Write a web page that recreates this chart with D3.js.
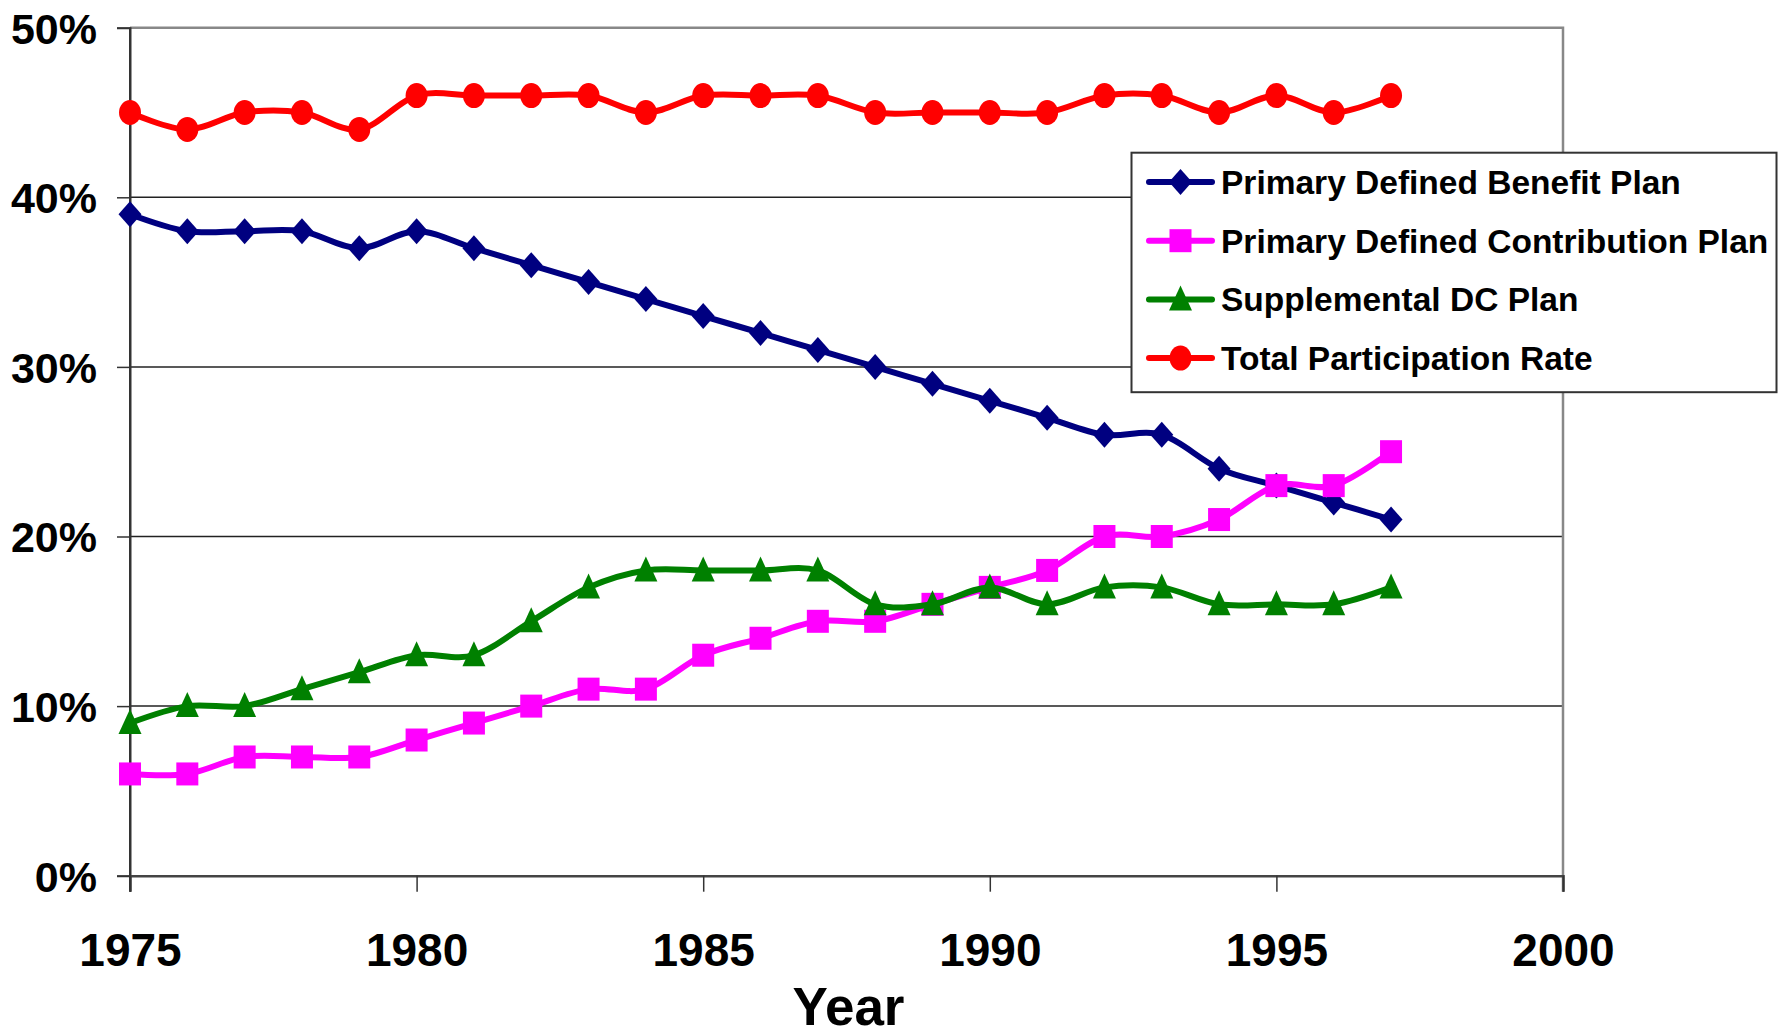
<!DOCTYPE html>
<html>
<head>
<meta charset="utf-8">
<title>Participation rates</title>
<style>
body { margin: 0; background: #fff; }
text { font-family: Arial, "Liberation Sans", sans-serif; font-weight: bold; fill: #000; }
</style>
</head>
<body>
<script src="https://cdn.jsdelivr.net/npm/d3@7"></script>
<script>

var years = d3.range(1975, 1998);
var seriesNames = ["Primary Defined Benefit Plan", "Primary Defined Contribution Plan",
                   "Supplemental DC Plan", "Total Participation Rate"];
var dbPlan    = [39, 38, 38, 38, 37, 38, 37, 36, 35, 34, 33, 32, 31, 30, 29, 28, 27, 26, 26, 24, 23, 22, 21];
var dcPlan    = [6, 6, 7, 7, 7, 8, 9, 10, 11, 11, 13, 14, 15, 15, 16, 17, 18, 20, 20, 21, 23, 23, 25];
var suppPlan  = [9, 10, 10, 11, 12, 13, 13, 15, 17, 18, 18, 18, 18, 16, 16, 17, 16, 17, 17, 16, 16, 16, 17];
var totalRate = [45, 44, 45, 45, 44, 46, 46, 46, 46, 45, 46, 46, 46, 45, 45, 45, 45, 46, 46, 45, 46, 45, 46];
var yTicks = [0, 10, 20, 30, 40, 50];
var xTicks = [1975, 1980, 1985, 1990, 1995, 2000];

var colors = ["#000080", "#ff00ff", "#008000", "#ff0000"];
var shapes = ["diamond", "square", "triangle", "circle"];
var allValues = [dbPlan, dcPlan, suppPlan, totalRate];

var width = 1783, height = 1032;
var plotLeft = 130, plotRight = 1563, plotTop = 27.7, plotBottom = 875.7;

var svg = d3.select("body").append("svg")
    .attr("width", width)
    .attr("height", height);

var x = d3.scaleLinear().domain([1975, 2000]).range([plotLeft, plotRight]);
var y = d3.scaleLinear().domain([0, 50]).range([plotBottom, plotTop]);

// gridlines
svg.append("g")
  .selectAll("line")
  .data(yTicks.filter(function(d) { return d > 0 && d < 50; }))
  .enter().append("line")
    .attr("x1", plotLeft).attr("x2", plotRight)
    .attr("y1", function(d) { return y(d); })
    .attr("y2", function(d) { return y(d); })
    .attr("stroke", "#222")
    .attr("stroke-width", 1.5);

// top and right border (gray)
svg.append("path")
    .attr("d", "M" + plotLeft + "," + y(50) + "H" + plotRight + "V" + (plotBottom + 16))
    .attr("fill", "none")
    .attr("stroke", "#888")
    .attr("stroke-width", 2.5);

// y axis
var yAxis = d3.axisLeft(y)
    .tickValues(yTicks)
    .tickSize(13)
    .tickPadding(20)
    .tickFormat(function(d) { return d + "%"; });

var gy = svg.append("g")
    .attr("transform", "translate(" + plotLeft + ",0)")
    .call(yAxis);
gy.select(".domain").attr("stroke", "#333").attr("stroke-width", 2);
gy.selectAll(".tick line").attr("stroke", "#333").attr("stroke-width", 1.5);
gy.selectAll(".tick text")
    .attr("font-size", 43)
    .attr("fill", "#000")
    .attr("font-family", "Arial, 'Liberation Sans', sans-serif")
    .attr("font-weight", "bold")
    .attr("dy", "0.36em");

// x axis
var xAxis = d3.axisBottom(x)
    .tickValues(xTicks)
    .tickSize(16)
    .tickPadding(42)
    .tickFormat(d3.format("d"));

var gx = svg.append("g")
    .attr("transform", "translate(0," + plotBottom + ")")
    .call(xAxis);
gx.select(".domain").attr("stroke", "#444").attr("stroke-width", 2.5);
gx.selectAll(".tick line").attr("stroke", "#333").attr("stroke-width", 1.5);
gx.selectAll(".tick text")
    .attr("font-size", 46)
    .attr("fill", "#000")
    .attr("font-family", "Arial, 'Liberation Sans', sans-serif")
    .attr("font-weight", "bold");

// left axis line extends to tick
svg.append("line")
    .attr("x1", plotLeft).attr("x2", plotLeft)
    .attr("y1", y(50)).attr("y2", plotBottom + 16)
    .attr("stroke", "#333").attr("stroke-width", 2);

// axis title
svg.append("text")
    .attr("x", (plotLeft + plotRight) / 2 + 2)
    .attr("y", 1025)
    .attr("text-anchor", "middle")
    .attr("font-size", 53)
    .text("Year");

// markers
function marker(sel, shape, color) {
  if (shape == "diamond") {
    sel.append("path").attr("d", "M0,-13L11.5,0L0,13L-11.5,0Z").attr("fill", color);
  } else if (shape == "square") {
    sel.append("rect").attr("x", -11).attr("y", -11.5).attr("width", 22).attr("height", 23).attr("fill", color);
  } else if (shape == "triangle") {
    sel.append("path").attr("d", "M0,-14L11.5,11L-11.5,11Z").attr("fill", color);
  } else {
    sel.append("ellipse").attr("rx", 11).attr("ry", 12.5).attr("fill", color);
  }
}

var line = d3.line()
    .x(function(d) { return x(d.year); })
    .y(function(d) { return y(d.value); })
    .curve(d3.curveCardinal.tension(0));

allValues.forEach(function(vals, i) {
  var pts = vals.map(function(v, j) { return {year: years[j], value: v}; });
  var g = svg.append("g");
  g.append("path")
      .attr("d", line(pts))
      .attr("fill", "none")
      .attr("stroke", colors[i])
      .attr("stroke-width", 6)
      .attr("stroke-linejoin", "round");
  g.selectAll("g.pt")
    .data(pts)
    .enter().append("g")
      .attr("class", "pt")
      .attr("transform", function(d) { return "translate(" + x(d.year) + "," + y(d.value) + ")"; })
      .each(function() { marker(d3.select(this), shapes[i], colors[i]); });
});

// legend
var legend = svg.append("g");
legend.append("rect")
    .attr("x", 1131.5).attr("y", 152.7)
    .attr("width", 645).attr("height", 239.5)
    .attr("fill", "#fff")
    .attr("stroke", "#333")
    .attr("stroke-width", 2);

seriesNames.forEach(function(name, i) {
  var cy = 182 + i * 58.7;
  var row = legend.append("g");
  row.append("line")
      .attr("x1", 1149).attr("x2", 1212)
      .attr("y1", cy).attr("y2", cy)
      .attr("stroke", colors[i])
      .attr("stroke-width", 6)
      .attr("stroke-linecap", "round");
  var m = row.append("g").attr("transform", "translate(1180.5," + cy + ")");
  marker(m, shapes[i], colors[i]);
  row.append("text")
      .attr("x", 1221)
      .attr("y", cy)
      .attr("dy", "0.36em")
      .attr("font-size", 33.5)
      .text(name);
});

</script>
</body>
</html>
